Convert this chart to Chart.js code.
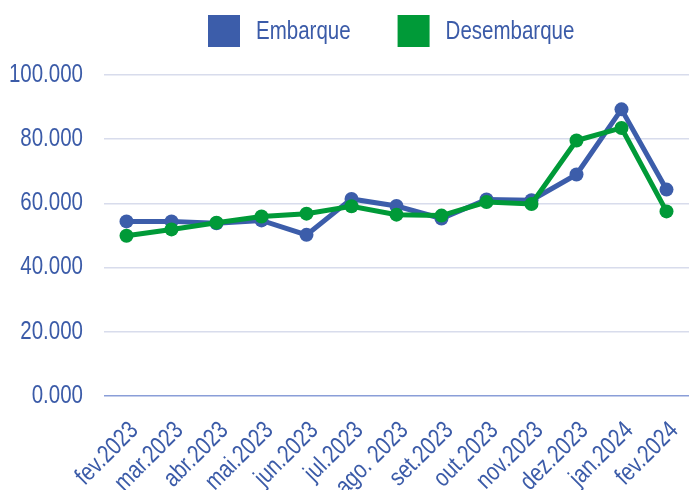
<!DOCTYPE html>
<html>
<head>
<meta charset="utf-8">
<script src="https://cdn.jsdelivr.net/npm/chart.js@4/dist/chart.umd.min.js"></script>
<style>
  html, body { margin: 0; padding: 0; background: #ffffff; }
  #wrap { width: 689px; height: 490px; }
</style>
</head>
<body>
<div id="wrap"><canvas id="c" width="689" height="490"></canvas></div>
<script>
const categories = ['fev.2023', 'mar.2023', 'abr.2023', 'mai.2023', 'jun.2023', 'jul.2023', 'ago. 2023', 'set.2023', 'out.2023', 'nov.2023', 'dez.2023', 'jan.2024', 'fev.2024'];
const embarque = [54400, 54400, 53800, 54700, 50200, 61400, 59200, 55300, 61200, 61000, 69000, 89300, 64300];
const desembarque = [49900, 51900, 54000, 55900, 56800, 59100, 56500, 56200, 60400, 59800, 79600, 83500, 57500];
const seriesNames = ['Embarque', 'Desembarque'];
const yTicks = [0, 20000, 40000, 60000, 80000, 100000];

const BLUE = '#3C5DAA';
const GREEN = '#009A38';
const TEXT = '#3B5BA8';
const FONT = "'Liberation Sans', Arial, sans-serif";
const NARROW = 0.82; // horizontal condensing of text, like a narrow face

function fmtThousands(v) {
  if (v === 0) return '0.000';
  return String(v).replace(/\B(?=(\d{3})+(?!\d))/g, '.');
}

// Draw all canvas text horizontally condensed around its anchor point
const narrowText = {
  id: 'narrowText',
  beforeInit(chart) {
    const ctx = chart.ctx;
    if (ctx.__narrow) return;
    const origFill = ctx.fillText.bind(ctx);
    const origMeasure = ctx.measureText.bind(ctx);
    ctx.fillText = function (t, x, y, mw) {
      this.save();
      this.translate(x, y);
      this.scale(NARROW, 1);
      origFill(t, 0, 0);
      this.restore();
    };
    ctx.measureText = function (t) {
      const m = origMeasure(t);
      return {
        width: m.width * NARROW,
        actualBoundingBoxAscent: m.actualBoundingBoxAscent,
        actualBoundingBoxDescent: m.actualBoundingBoxDescent,
        actualBoundingBoxLeft: m.actualBoundingBoxLeft * NARROW,
        actualBoundingBoxRight: m.actualBoundingBoxRight * NARROW
      };
    };
    ctx.__narrow = true;
  }
};

const customLegend = {
  id: 'customLegend',
  afterDraw(chart) {
    const ctx = chart.ctx;
    ctx.save();
    ctx.font = '25px ' + FONT;
    ctx.textBaseline = 'middle';
    ctx.textAlign = 'left';
    let x = 208;
    const top = 15, box = 32;
    chart.data.datasets.forEach((ds) => {
      ctx.fillStyle = ds.borderColor;
      ctx.fillRect(x, top, box, box);
      const tx = x + box + 16;
      ctx.fillStyle = TEXT;
      ctx.fillText(ds.label, tx, top + box / 2 + 1);
      x = tx + ctx.measureText(ds.label).width + 47;
    });
    ctx.restore();
  }
};

new Chart(document.getElementById('c'), {
  type: 'line',
  data: {
    labels: categories,
    datasets: [
      {
        label: seriesNames[0],
        data: embarque,
        borderColor: BLUE,
        backgroundColor: BLUE,
        borderWidth: 5,
        pointRadius: 7,
        pointHoverRadius: 7,
        pointBorderWidth: 0,
        tension: 0,
        clip: false,
        order: 1
      },
      {
        label: seriesNames[1],
        data: desembarque,
        borderColor: GREEN,
        backgroundColor: GREEN,
        borderWidth: 5,
        pointRadius: 7,
        pointHoverRadius: 7,
        pointBorderWidth: 0,
        tension: 0,
        clip: false,
        order: 0
      }
    ]
  },
  options: {
    responsive: false,
    animation: false,
    events: [],
    layout: { autoPadding: false, padding: { top: 75, right: 0, left: 0, bottom: 0 } },
    plugins: {
      legend: { display: false },
      tooltip: { enabled: false }
    },
    scales: {
      x: {
        offset: true,
        afterFit: (s) => { s.height = 94; s.paddingRight = 0; s.paddingLeft = 0; },
        grid: { display: false, drawTicks: false },
        border: { display: false },
        ticks: {
          color: TEXT,
          font: { family: FONT, size: 25 },
          minRotation: 45,
          maxRotation: 45,
          autoSkip: false,
          padding: 20,
          labelOffset: 8
        }
      },
      y: {
        min: 0,
        max: 100000,
        afterFit: (s) => { s.width = 104; s.paddingTop = 0; s.paddingBottom = 0; },
        afterBuildTicks: (s) => { s.ticks = yTicks.map(v => ({ value: v })); },
        grid: {
          color: (c) => c.tick && c.tick.value === 0 ? '#8A9ED8' : '#D8DCEC',
          lineWidth: 1.5,
          drawTicks: false
        },
        border: { display: false },
        ticks: {
          color: TEXT,
          font: { family: FONT, size: 25 },
          padding: 21,
          callback: (v) => fmtThousands(v)
        }
      }
    }
  },
  plugins: [narrowText, customLegend]
});
</script>
</body>
</html>
